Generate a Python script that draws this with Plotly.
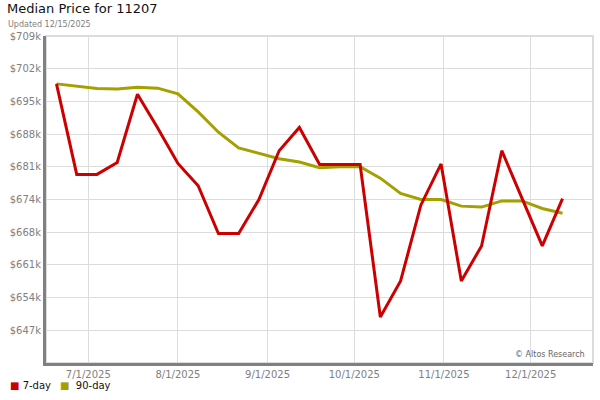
import plotly.graph_objects as go

# weekly dates
fechas = [
    "2025-06-20", "2025-06-27", "2025-07-04", "2025-07-11", "2025-07-18", "2025-07-25",
    "2025-08-01", "2025-08-08", "2025-08-15", "2025-08-22", "2025-08-29", "2025-09-05",
    "2025-09-12", "2025-09-19", "2025-09-26", "2025-10-03", "2025-10-10", "2025-10-17",
    "2025-10-24", "2025-10-31", "2025-11-07", "2025-11-14", "2025-11-21", "2025-11-28",
    "2025-12-05", "2025-12-12",
]

precio_7d = [
    698900, 679800, 679800, 682300, 696700, 689600, 682100, 677400, 667300, 667300,
    674500, 684800, 689700, 681900, 681900, 681900, 649700, 657300, 673300, 682000,
    657300, 664700, 684800, 674700, 664700, 674700,
]

precio_90d = [
    698900, 698400, 697900, 697800, 698200, 698000, 696800, 693000, 688700, 685400,
    684200, 683100, 682400, 681200, 681400, 681400, 679000, 675800, 674500, 674500,
    673100, 672900, 674200, 674200, 672600, 671600,
]

y_ticks = [646900 + 6900 * i for i in range(10)]
y_labels = ["$647k", "$654k", "$661k", "$668k", "$674k", "$681k",
            "$688k", "$695k", "$702k", "$709k"]

x_ticks = ["2025-07-01", "2025-08-01", "2025-09-01", "2025-10-01", "2025-11-01", "2025-12-01"]

ROJO = "#cc0000"
OLIVA = "#a3a000"
GRIS = "#808080"
FONT = "DejaVu Sans"

fig = go.Figure()

fig.add_trace(go.Scatter(
    x=fechas, y=precio_90d, name="90-day", mode="lines",
    line=dict(color=OLIVA, width=3), showlegend=False
))
fig.add_trace(go.Scatter(
    x=fechas, y=precio_7d, name="7-day", mode="lines",
    line=dict(color=ROJO, width=3), showlegend=False
))

# leyenda como texto (cuadrados de color), una anotación por serie
NBSP = "\u00a0"
leyenda = [
    (f'<span style="color:{ROJO}">■</span>{NBSP}7-day', 8),
    (f'<span style="color:{OLIVA}">■</span>{NBSP}{NBSP}90-day', 58),
]

notas = [
    dict(text="Updated 12/15/2025", xref="paper", yref="paper",
         x=-40 / 547, y=1 + 11 / 327, xanchor="left", yanchor="middle",
         showarrow=False, font=dict(size=8, color=GRIS)),
    dict(text="© Altos Research", xref="paper", yref="paper",
         x=1 - 6 / 547, y=9 / 327, xanchor="right", yanchor="middle",
         showarrow=False, font=dict(size=8, color="#666")),
]
for texto, px_izq in leyenda:
    notas.append(dict(
        text=texto, xref="paper", yref="paper",
        x=(px_izq - 46) / 547, y=-22 / 327, xanchor="left", yanchor="middle",
        showarrow=False, font=dict(size=10, color="#111"),
    ))

fig.update_layout(
    width=600, height=400,
    margin=dict(l=46, r=7, t=36, b=37, autoexpand=False),
    paper_bgcolor="white", plot_bgcolor="white",
    font=dict(family=FONT, size=9, color=GRIS),
    title=dict(
        text="Median Price for 11207", font=dict(size=13, color="#111"),
        x=7 / 600, xref="container", xanchor="left",
        y=1 - 4 / 400, yref="container", yanchor="top",
    ),
    showlegend=False,
    annotations=notas,
    shapes=[
        dict(type="rect", xref="paper", yref="paper", x0=0, y0=0, x1=1, y1=1,
             line=dict(color="#dcdcdc", width=2), layer="below"),
    ],
)

fig.update_xaxes(
    type="date", range=["2025-06-16 09:00", "2025-12-22 13:00"],
    tickvals=x_ticks, tickformat="%-m/%-d/%Y",
    showgrid=True, gridcolor="#dcdcdc", gridwidth=1,
    showline=True, linecolor=GRIS, linewidth=3,
    ticks="", zeroline=False, tickfont=dict(size=10, color=GRIS),
    automargin=False,
)
fig.update_yaxes(
    range=[640000, 709000],
    tickvals=y_ticks, ticktext=y_labels,
    showgrid=True, gridcolor="#dcdcdc", gridwidth=1,
    showline=True, linecolor=GRIS, linewidth=3,
    ticks="", zeroline=False, tickfont=dict(size=10, color=GRIS),
    automargin=False,
)

# quitar el margen por defecto del body para que el gráfico quede en (0, 0)
fig.write_html(
    "out.html",
    config={"displayModeBar": False},
    post_script="document.body.style.margin='0';",
)
